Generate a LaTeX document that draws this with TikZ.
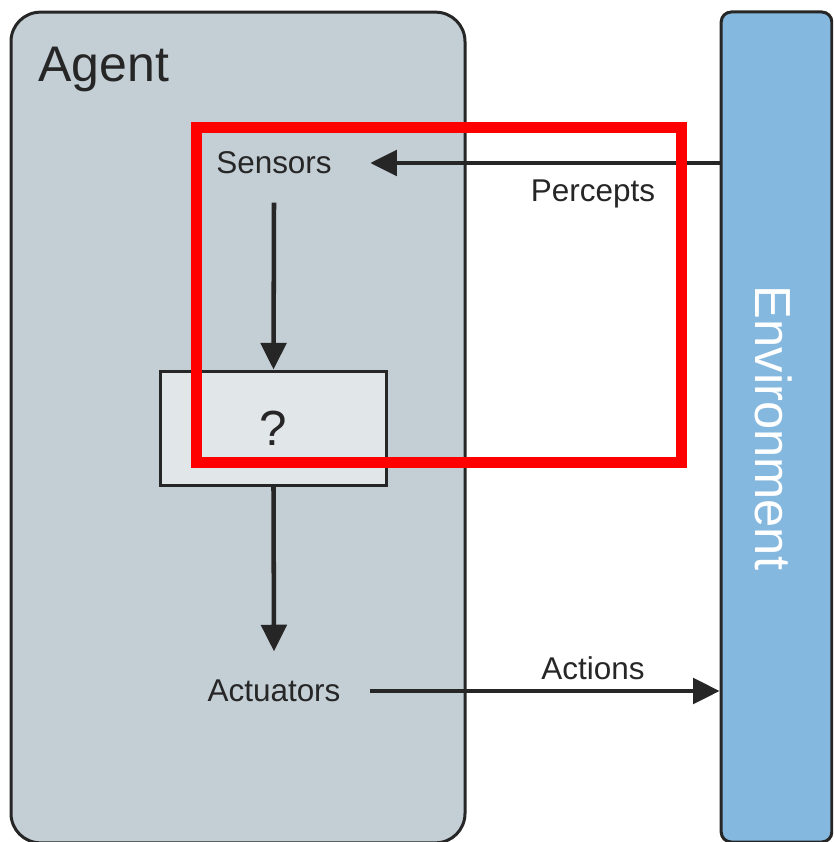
\documentclass[tikz,border=0pt]{standalone}
\usepackage{fontspec}
\setmainfont{Liberation Sans}
\usetikzlibrary{arrows.meta}
\definecolor{ink}{HTML}{262626}
\definecolor{agentfill}{HTML}{C3CED5}
\definecolor{envfill}{HTML}{85B8DF}
\definecolor{qfill}{HTML}{E1E6E9}
\tikzset{
  panel/.style={draw=ink, line width=2.25pt, inner sep=0pt},
  lbl/.style={text=ink, font=\fontsize{23.6}{28}\selectfont, inner sep=0pt},
  port/.style={lbl, minimum width=144pt, minimum height=59pt},
  flow/.style={draw=ink, line width=3.4pt, -{Triangle[length=20pt,width=19pt]}},
  mark box/.style={draw=red, line width=8.25pt}
}
\begin{document}
\begin{tikzpicture}[x=0.75pt,y=-0.75pt]
  \useasboundingbox (0,0) rectangle (833,842);
  \clip (0,0) rectangle (833,842);

  % agent and environment panels
  \node[panel, fill=agentfill, rounded corners=22pt, minimum width=340.5pt, minimum height=623pt]
    (agent) at (238,427.5) {};
  \node[panel, fill=envfill, rounded corners=7.5pt, minimum width=83pt, minimum height=622.5pt]
    (env) at (776.5,427) {};

  \node[text=ink, font=\fontsize{37.5}{44}\selectfont, inner sep=0pt, anchor=base west]
    (agentlbl) at (38,82) {Agent};
  \node[text=white, font=\fontsize{38}{44}\selectfont, inner sep=0pt, rotate=-90]
    (envlbl) at (774,428) {Environment};

  % inside the agent
  \node[port] (sensors) at (274,163) {Sensors};
  \node[panel, fill=qfill, minimum width=170pt, minimum height=85.5pt,
        font=\fontsize{37}{44}\selectfont, text=ink] (q) at (273.5,428) {?};
  \node[port] (actuators) at (274,691) {Actuators};

  \draw[flow] (sensors.south) -- (q.north);
  \draw[flow] (q.south) -- (actuators.north);

  % exchanges with the environment
  \draw[flow] (env.west |- sensors.east) -- (sensors.east);
  \draw[flow] (actuators.east) -- (actuators.east -| env.west);
  \node[lbl, anchor=base] (percepts) at (593,201) {Percepts};
  \node[lbl] (actions) at (593,668) {Actions};

  % highlight frame
  \coordinate (hl1) at (196,127);
  \coordinate (hl2) at (681,462);
  \draw[mark box] (hl1) rectangle (hl2);
\end{tikzpicture}
\end{document}
